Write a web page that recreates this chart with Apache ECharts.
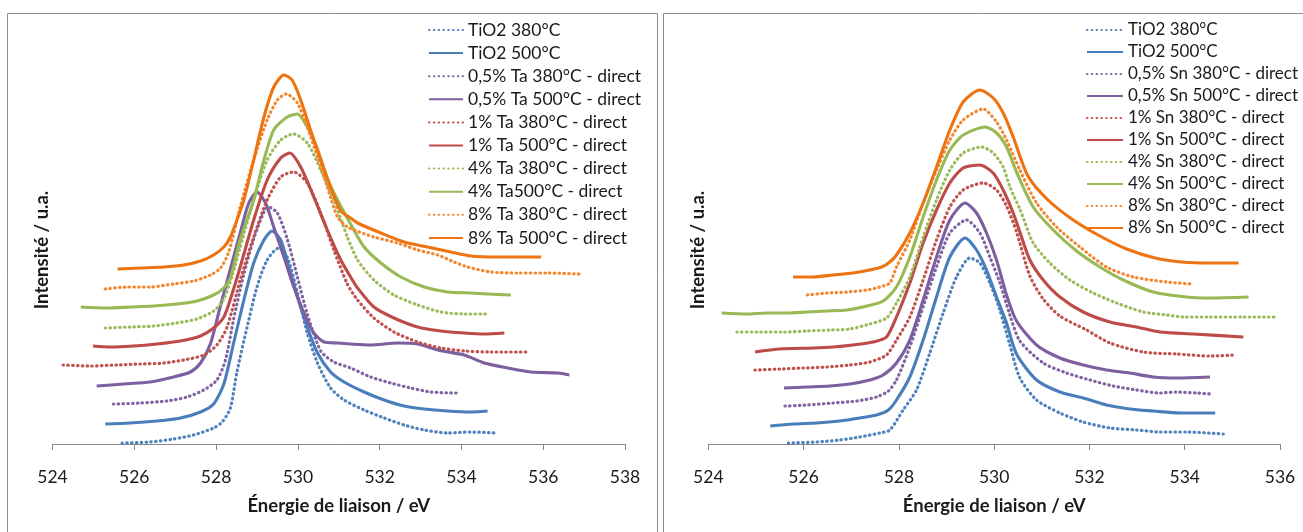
<!DOCTYPE html>
<html><head><meta charset="utf-8">
<script src="https://cdn.jsdelivr.net/npm/echarts@6/dist/echarts.min.js"></script>
<style>html,body{margin:0;padding:0;background:#fff}#c{width:1303px;height:532px}</style>
</head><body><div id="c"></div><script>
// ---- Tick labels (x axes, binding energy eV) ----
const ticksTa = [524, 526, 528, 530, 532, 534, 536, 538];
const ticksSn = [524, 526, 528, 530, 532, 534, 536];

// ---- Legend names ----
const namesTa = ["TiO2 380°C", "TiO2 500°C", "0,5% Ta 380°C - direct", "0,5% Ta 500°C - direct",
  "1% Ta 380°C - direct", "1% Ta 500°C - direct", "4% Ta 380°C - direct", "4% Ta500°C - direct",
  "8% Ta 380°C - direct", "8% Ta 500°C - direct"];
const namesSn = ["TiO2 380°C", "TiO2 500°C", "0,5% Sn 380°C - direct", "0,5% Sn 500°C - direct",
  "1% Sn 380°C - direct", "1% Sn 500°C - direct", "4% Sn 380°C - direct", "4% Sn 500°C - direct",
  "8% Sn 380°C - direct", "8% Sn 500°C - direct"];

// ---- Left panel (Ta) : [energy eV, intensity a.u. (offset stacked)] ----
const ta_TiO2_380 = [[525.70,1],[526.39,2],[526.96,5],[527.45,9],[527.94,16],[528.15,22],[528.35,36],[528.51,72],[528.76,117],[529.00,157],[529.25,184],[529.53,196],[529.74,187],[529.99,151],[530.23,111],[530.48,81],[530.80,56],[531.13,44],[531.62,34],[532.11,26],[532.60,19],[533.09,14],[533.66,11],[534.23,12],[534.85,11]];
const ta_TiO2_500 = [[525.29,20],[525.90,21],[526.55,23],[527.13,26],[527.62,32],[527.94,40],[528.19,60],[528.43,101],[528.68,144],[528.92,181],[529.17,204],[529.37,213],[529.58,204],[529.78,177],[529.99,147],[530.23,117],[530.48,91],[530.80,72],[531.13,62],[531.62,52],[532.11,44],[532.60,38],[533.09,35],[533.66,33],[534.23,32],[534.64,33]];
const ta_05_380 = [[525.49,40],[526.14,41],[526.80,43],[527.29,47],[527.70,54],[528.02,64],[528.23,84],[528.43,125],[528.68,170],[528.92,205],[529.17,232],[529.28,237],[529.50,231],[529.74,205],[529.99,167],[530.23,130],[530.56,93],[530.88,82],[531.29,76],[531.78,67],[532.27,61],[532.76,56],[533.25,52],[533.87,51]];
const ta_05_500 = [[525.08,58],[525.74,60],[526.39,62],[526.96,67],[527.37,72],[527.62,81],[527.86,100],[528.10,137],[528.35,175],[528.59,211],[528.80,241],[529.00,252],[529.21,241],[529.41,217],[529.66,187],[529.90,157],[530.15,131],[530.39,111],[530.64,102],[530.97,101],[531.29,100],[531.78,99],[532.44,101],[532.93,100],[533.42,94],[534.07,89],[534.56,81],[535.13,76],[535.70,72],[536.36,71],[536.64,69]];
const ta_1_380 = [[524.26,79],[524.92,78],[525.57,79],[526.14,80],[526.72,81],[527.21,84],[527.70,89],[528.02,99],[528.27,117],[528.59,164],[528.92,207],[529.25,244],[529.58,267],[529.90,272],[530.23,261],[530.56,231],[530.88,194],[531.21,160],[531.46,144],[531.86,126],[532.35,112],[532.93,102],[533.50,96],[534.07,93],[534.72,92],[535.66,92]];
const ta_1_500 = [[524.99,98],[525.41,97],[525.98,98],[526.55,100],[527.13,103],[527.62,108],[527.94,116],[528.19,127],[528.39,150],[528.59,177],[528.92,224],[529.25,264],[529.58,286],[529.80,291],[530.07,277],[530.39,247],[530.72,214],[531.05,184],[531.29,167],[531.46,156],[531.86,137],[532.35,126],[532.93,117],[533.50,113],[534.07,111],[534.56,110],[535.05,111]];
const ta_4_380 = [[525.29,116],[525.90,117],[526.47,118],[527.04,121],[527.53,125],[527.94,133],[528.19,145],[528.39,168],[528.59,197],[528.92,244],[529.25,284],[529.58,304],[529.90,310],[530.23,301],[530.56,274],[530.88,244],[531.21,207],[531.46,184],[531.86,164],[532.35,149],[532.93,139],[533.50,132],[534.07,130],[534.64,130]];
const ta_4_500 = [[524.69,137],[525.33,136],[525.90,137],[526.47,138],[527.04,140],[527.53,143],[527.94,149],[528.19,156],[528.35,166],[528.59,204],[528.92,244],[529.17,284],[529.41,314],[529.74,327],[529.99,330],[530.23,317],[530.48,295],[530.72,266],[530.97,244],[531.33,217],[531.62,197],[532.03,181],[532.52,167],[533.09,157],[533.66,152],[534.23,151],[534.64,150],[535.21,149]];
const ta_8_380 = [[525.29,155],[525.82,157],[526.39,157],[526.96,160],[527.45,163],[527.86,169],[528.11,176],[528.31,192],[528.59,237],[528.92,284],[529.25,324],[529.50,344],[529.72,350],[529.99,341],[530.23,317],[530.48,287],[530.72,257],[530.97,227],[531.21,217],[531.37,214],[531.86,207],[532.44,201],[532.93,194],[533.42,189],[533.82,182],[534.15,177],[534.72,172],[535.38,171],[536.11,171],[536.89,170]];
const ta_8_500 = [[525.59,175],[526.14,176],[526.72,177],[527.21,179],[527.62,183],[527.94,189],[528.19,197],[528.35,207],[528.51,224],[528.68,244],[528.92,284],[529.17,327],[529.41,357],[529.66,369],[529.86,364],[530.07,344],[530.31,314],[530.56,284],[530.80,257],[531.05,233],[531.29,226],[531.46,221],[532.03,211],[532.60,202],[533.17,197],[533.74,192],[534.23,188],[534.89,187],[535.46,187],[535.95,187]];

// ---- Right panel (Sn) ----
const sn_TiO2_380 = [[525.68,1],[526.28,2],[526.76,4],[527.18,7],[527.60,11],[527.81,14],[528.09,34],[528.37,54],[528.65,91],[528.93,131],[529.21,167],[529.49,186],[529.70,181],[529.91,161],[530.12,134],[530.33,99],[530.54,66],[530.89,44],[531.38,31],[531.87,22],[532.43,16],[532.99,14],[533.48,12],[534.04,12],[534.81,10]];
const sn_TiO2_500 = [[525.30,18],[525.78,20],[526.28,21],[526.76,23],[527.18,26],[527.53,29],[527.78,34],[527.95,44],[528.23,67],[528.51,104],[528.79,147],[529.07,187],[529.39,206],[529.63,194],[529.84,174],[530.05,147],[530.26,121],[530.47,90],[530.89,64],[531.38,52],[531.87,46],[532.36,39],[532.85,35],[533.34,33],[533.90,31],[534.64,31]];
const sn_05_380 = [[525.61,38],[526.07,39],[526.62,41],[527.12,43],[527.53,47],[527.78,53],[527.95,64],[528.23,97],[528.51,137],[528.79,177],[529.07,211],[529.42,224],[529.70,211],[529.91,187],[530.12,161],[530.33,129],[530.54,103],[531.03,81],[531.52,71],[532.01,64],[532.50,58],[532.99,54],[533.48,51],[533.83,52],[534.25,51],[534.53,50]];
const sn_05_500 = [[525.59,56],[526.07,57],[526.55,58],[526.97,60],[527.39,64],[527.67,69],[527.95,81],[528.23,104],[528.51,144],[528.79,187],[529.07,224],[529.39,241],[529.63,231],[529.84,211],[530.05,184],[530.26,149],[530.47,123],[530.89,99],[531.38,86],[531.87,79],[532.36,74],[532.85,71],[533.34,67],[533.83,66],[534.53,67]];
const sn_1_380 = [[524.98,74],[525.50,75],[525.99,76],[526.49,77],[526.97,79],[527.39,82],[527.74,89],[527.95,104],[528.23,127],[528.51,164],[528.79,204],[529.07,237],[529.35,254],[529.77,261],[530.05,254],[530.26,238],[530.47,212],[530.75,168],[531.03,145],[531.38,128],[531.94,114],[532.43,101],[533.13,92],[533.83,90],[534.53,88],[535.02,89]];
const sn_1_500 = [[524.98,92],[525.50,95],[526.20,96],[526.62,97],[527.04,99],[527.46,102],[527.74,107],[527.95,127],[528.23,161],[528.51,201],[528.79,234],[529.07,261],[529.35,276],[529.70,279],[529.98,271],[530.19,254],[530.40,231],[530.54,212],[530.75,184],[531.03,164],[531.38,147],[531.87,132],[532.43,122],[532.99,117],[533.48,112],[534.18,110],[535.23,107]];
const sn_4_380 = [[524.60,112],[525.09,112],[525.57,112],[526.07,113],[526.55,114],[526.97,115],[527.39,120],[527.74,126],[527.95,141],[528.23,167],[528.51,207],[528.79,244],[529.07,274],[529.35,291],[529.74,297],[529.98,291],[530.19,277],[530.33,257],[530.54,235],[530.82,201],[531.17,181],[531.59,164],[532.08,151],[532.57,141],[533.13,132],[533.62,129],[533.97,127],[534.53,127],[535.23,127],[535.93,127]];
const sn_4_500 = [[524.28,131],[524.81,130],[525.23,131],[525.65,131],[526.07,132],[526.49,133],[526.91,134],[527.33,138],[527.67,143],[527.95,157],[528.23,187],[528.51,227],[528.79,264],[529.07,294],[529.35,309],[529.81,317],[530.05,311],[530.26,297],[530.47,272],[530.82,237],[531.24,214],[531.73,193],[532.22,177],[532.71,164],[533.34,152],[534.04,147],[534.53,146],[535.34,147]];
const sn_8_380 = [[526.08,149],[526.49,151],[526.91,152],[527.33,154],[527.60,157],[527.81,161],[527.95,177],[528.23,204],[528.51,241],[528.79,274],[529.07,304],[529.35,324],[529.77,335],[530.05,322],[530.26,304],[530.54,274],[530.89,241],[531.31,217],[531.80,197],[532.36,177],[532.92,167],[533.62,162],[534.15,160]];
const sn_8_500 = [[525.78,167],[526.20,167],[526.62,169],[527.04,171],[527.39,174],[527.64,177],[527.81,182],[527.95,189],[528.23,211],[528.51,241],[528.79,277],[529.07,314],[529.35,342],[529.70,354],[529.98,346],[530.19,331],[530.40,307],[530.71,268],[531.13,244],[531.66,224],[532.22,208],[532.78,195],[533.38,186],[533.94,182],[534.53,181],[535.13,181]];

const dataTa = [ta_TiO2_380, ta_TiO2_500, ta_05_380, ta_05_500, ta_1_380, ta_1_500, ta_4_380, ta_4_500, ta_8_380, ta_8_500];
const dataSn = [sn_TiO2_380, sn_TiO2_500, sn_05_380, sn_05_500, sn_1_380, sn_1_500, sn_4_380, sn_4_500, sn_8_380, sn_8_500];

// styling
const colDotted = ['#4F81BD', '#8064A2', '#C0504D', '#9BBB59', '#F4862E'];
const colSolid  = ['#4A7EBB', '#7D5FA0', '#BE4B48', '#98B954', '#EE7412'];
const FONT = 'Lato, "Open Sans", sans-serif';

function mkSeries(names, datas, axisIdx) {
  return names.map((n, i) => {
    const dotted = i % 2 === 0;
    const c = dotted ? colDotted[i >> 1] : colSolid[i >> 1];
    return {
      name: n, type: 'line', xAxisIndex: axisIdx, yAxisIndex: axisIdx,
      data: datas[i], symbol: 'none', showSymbol: false,
      smooth: 0.25, animation: false,
      lineStyle: dotted ? {color: c, width: 3.2, type: [0.5, 4.3], cap: 'round'} : {color: c, width: 3.1, type: 'solid', join: 'round'},
      itemStyle: {color: c}, emphasis: {disabled: true}
    };
  });
}

function mkX(ticks, grid) {
  return {
    type: 'value', gridIndex: grid, min: ticks[0], max: ticks[ticks.length - 1], interval: 2,
    axisLine: {show: true, lineStyle: {color: '#898989', width: 1}},
    axisTick: {show: true, length: 6, lineStyle: {color: '#898989'}},
    splitLine: {show: false},
    axisLabel: {fontFamily: FONT, fontSize: 17.5, color: '#1a1a1a', margin: 24, showMinLabel: true, showMaxLabel: true},
    name: 'Énergie de liaison / eV', nameLocation: 'middle', nameGap: 53,
    nameTextStyle: {fontFamily: FONT, fontSize: 18.5, fontWeight: 'bold', color: '#1a1a1a'}
  };
}
function mkY(grid) {
  return {
    type: 'value', gridIndex: grid, min: 0, max: 388,
    axisLine: {show: false}, axisTick: {show: false}, axisLabel: {show: false}, splitLine: {show: false},
    name: 'Intensité / u.a.', nameLocation: 'middle', nameRotate: 90, nameGap: 1,
    nameTextStyle: {fontFamily: FONT, fontSize: 18.5, fontWeight: 'bold', color: '#1a1a1a'}
  };
}
function mkLegend(names, left, top, gap, w, fs) {
  return {
    data: names, orient: 'vertical', left: left, top: top, itemGap: gap,
    itemWidth: w, itemHeight: 12, selectedMode: false, padding: 0,
    itemStyle: {opacity: 0},
    textStyle: {fontFamily: FONT, fontSize: fs, color: '#1a1a1a', padding: [0, 0, 0, 0]}
  };
}

const chart = echarts.init(document.getElementById('c'), null, {renderer: 'canvas'});
chart.setOption({
  backgroundColor: '#ffffff',
  animation: false,
  grid: [
    {left: 52.5, top: 56, width: 572.5, height: 388, outerBoundsMode: 'none'},
    {left: 708.3, top: 56, width: 571.7, height: 388, outerBoundsMode: 'none'}
  ],
  xAxis: [mkX(ticksTa, 0), mkX(ticksSn, 1)],
  yAxis: [mkY(0), mkY(1)],
  legend: [mkLegend(namesTa, 428, 21, 5.1, 34, 17.5), mkLegend(namesSn, 1086, 21.5, 5.0, 36, 17)],
  graphic: [
    {type: 'rect', silent: true, z: -1, shape: {x: 7.5, y: 13.5, width: 650, height: 540}, style: {fill: 'none', stroke: '#8c8c8c', lineWidth: 1}},
    {type: 'rect', silent: true, z: -1, shape: {x: 663.5, y: 13.5, width: 660, height: 540}, style: {fill: 'none', stroke: '#8c8c8c', lineWidth: 1}}
  ],
  series: mkSeries(namesTa, dataTa, 0).concat(mkSeries(namesSn, dataSn, 1))
});
</script></body></html>
